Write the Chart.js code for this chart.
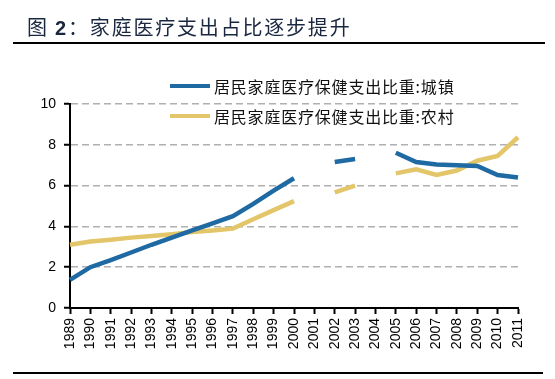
<!DOCTYPE html>
<html>
<head>
<meta charset="utf-8">
<script src="https://cdn.jsdelivr.net/npm/chart.js@4/dist/chart.umd.min.js"></script>
<style>
  html, body { margin: 0; padding: 0; background: #fff; }
  #wrap { position: relative; width: 555px; height: 379px; overflow: hidden; }
  canvas { position: absolute; left: 0; top: 0; }
  .title { position: absolute; left: 27px; top: 17px; font-family: "Noto Sans CJK SC", sans-serif; font-size: 20px; line-height: 20px; color: #1a2740; letter-spacing: 1.8px; white-space: nowrap; }
  .title b { font-family: "Liberation Sans", Arial, sans-serif; font-weight: bold; }
  .rule { position: absolute; background: #000; }
  .leg { position: absolute; left: 170px; height: 20px; white-space: nowrap; }
  .leg i { position: absolute; left: 0; top: 8px; width: 40px; height: 4px; }
  .leg span { position: absolute; left: 44px; top: 0; font-family: "Noto Sans CJK SC", sans-serif; font-size: 16px; line-height: 20px; color: #111; letter-spacing: 0.8px; }
</style>
</head>
<body>
<div id="wrap">
  <canvas id="c" width="555" height="379"></canvas>
  <div class="title">图 <b>2</b>：家庭医疗支出占比逐步提升</div>
  <div class="rule" style="left:13px; top:42px; width:532px; height:2px;"></div>
  <div class="rule" style="left:13px; top:372px; width:530px; height:1.5px;"></div>
  <div class="leg" style="top:76px;"><i style="background:#1f6aa3"></i><span id="l1"></span></div>
  <div class="leg" style="top:106px;"><i style="background:#e4c66a"></i><span id="l2"></span></div>
</div>
<script>
const years = ['1989','1990','1991','1992','1993','1994','1995','1996','1997','1998','1999','2000','2001','2002','2003','2004','2005','2006','2007','2008','2009','2010','2011'];
const urbanLabel = '居民家庭医疗保健支出比重:城镇';
const ruralLabel = '居民家庭医疗保健支出比重:农村';
const urban = [1.38, 2.0, 2.35, 2.72, 3.1, 3.45, 3.8, 4.15, 4.5, 5.1, 5.75, 6.36, null, 7.16, 7.3, null, 7.61, 7.16, 7.04, 7.0, 6.96, 6.52, 6.4];
const rural = [3.1, 3.26, 3.35, 3.45, 3.53, 3.62, 3.72, 3.8, 3.89, 4.35, 4.8, 5.24, null, 5.67, 6.0, null, 6.6, 6.8, 6.52, 6.74, 7.22, 7.45, 8.37];
const yTicks = [0, 2, 4, 6, 8, 10];

document.getElementById('l1').textContent = urbanLabel;
document.getElementById('l2').textContent = ruralLabel;

new Chart(document.getElementById('c'), {
  type: 'line',
  data: {
    labels: years,
    datasets: [
      { label: urbanLabel, data: urban, borderColor: '#1f6aa3', borderWidth: 4.5, pointRadius: 0, tension: 0, spanGaps: false },
      { label: ruralLabel, data: rural, borderColor: '#e4c66a', borderWidth: 4.5, pointRadius: 0, tension: 0, spanGaps: false }
    ]
  },
  options: {
    responsive: false,
    animation: false,
    devicePixelRatio: 1,
    layout: { padding: { top: 104, right: 37, left: 0, bottom: 0 } },
    plugins: { legend: { display: false }, tooltip: { enabled: false } },
    scales: {
      x: {
        type: 'category',
        offset: false,
        grid: { drawOnChartArea: false, drawTicks: true, tickLength: 6, tickColor: '#000', tickWidth: 2 },
        border: { display: true, color: '#000', width: 2 },
        ticks: { autoSkip: false, minRotation: 90, maxRotation: 90, padding: 4, color: '#000', font: { family: '"Liberation Sans", Arial, sans-serif', size: 14 } },
        afterFit: s => { s.height = 71; }
      },
      y: {
        min: 0, max: 10,
        afterBuildTicks: s => { s.ticks = yTicks.map(v => ({ value: v })); },
        grid: {
          color: c => (c.tick && c.tick.value === 0) ? 'rgba(0,0,0,0)' : '#b0b0b0',
          lineWidth: 1.5, tickLength: 6, tickColor: '#000', tickWidth: 2, tickBorderDash: []
        },
        border: { display: true, color: '#000', width: 2, dash: [7, 4] },
        ticks: { padding: 8, color: '#000', font: { family: '"Liberation Sans", Arial, sans-serif', size: 14 } },
        afterFit: s => { s.width = 70; }
      }
    }
  }
});
</script>
</body>
</html>
